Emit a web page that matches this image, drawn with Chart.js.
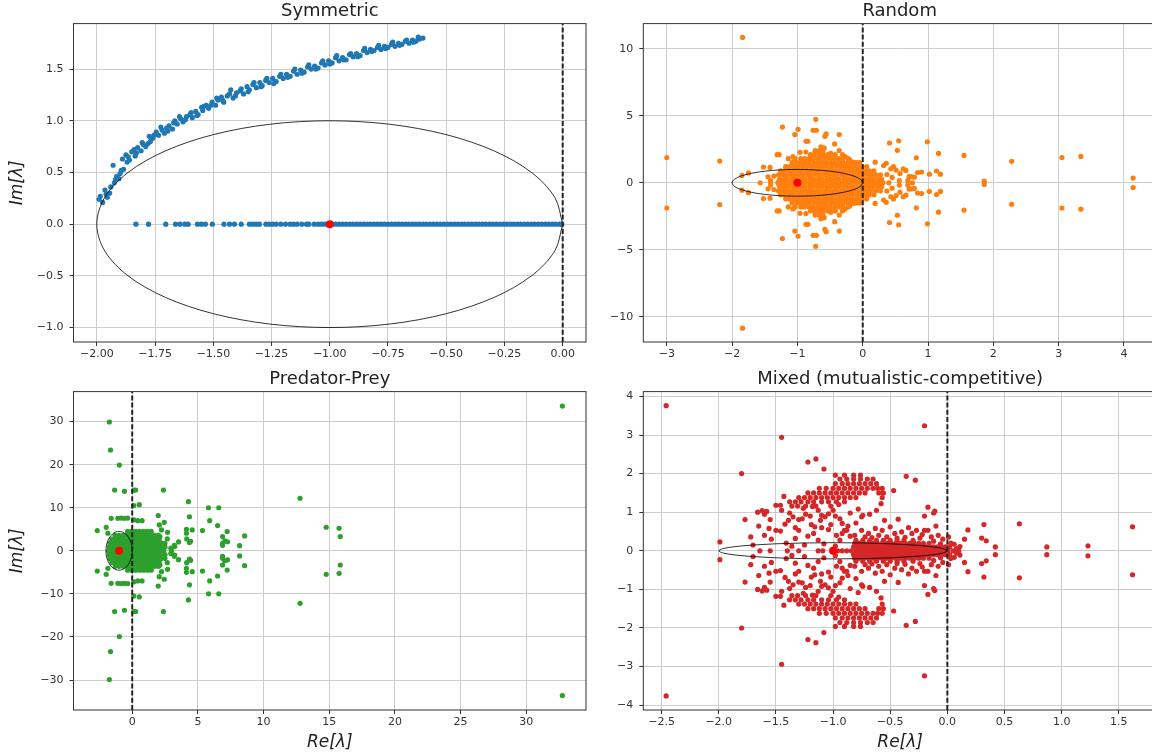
<!DOCTYPE html>
<html>
<head>
<meta charset="utf-8">
<script src="https://cdn.jsdelivr.net/npm/chart.js@4/dist/chart.umd.min.js"></script>
<style>
  html, body { margin: 0; padding: 0; background: #fff; overflow: hidden; width: 1152px; height: 755px; }
  canvas { position: absolute; }
  #symmetricChart { left: 0; top: 0; }
  #randomChart { left: 580px; top: 0; }
  #predatorChart { left: 0; top: 368px; }
  #mixedChart { left: 580px; top: 368px; }
</style>
</head>
<body>
<canvas id="symmetricChart" width="590" height="370"></canvas>
<canvas id="randomChart" width="580" height="370"></canvas>
<canvas id="predatorChart" width="590" height="387"></canvas>
<canvas id="mixedChart" width="581" height="387"></canvas>
<script>
// ====== Data (eigenvalues, [Re, Im]) ======
// Symmetric: upper branch and the points lying on the real axis
const symArc = [
  [-1.99, 0.24], [-1.985, 0.27], [-1.975, 0.21], [-1.965, 0.33], [-1.955, 0.26], [-1.945, 0.30], [-1.94, 0.36],
  [-1.93, 0.57], [-1.925, 0.40], [-1.915, 0.46], [-1.905, 0.44], [-1.90, 0.49], [-1.89, 0.63], [-1.885, 0.53],
  [-1.875, 0.67], [-1.87, 0.60], [-1.86, 0.62], [-1.85, 0.70], [-1.84, 0.72], [-1.835, 0.66], [-1.825, 0.74],
  [-1.81, 0.71], [-1.80, 0.77], [-1.79, 0.75], [-1.775, 0.85], [-1.77, 0.80], [-1.76, 0.83], [-1.745, 0.89],
  [-1.735, 0.86], [-1.72, 0.91], [-1.71, 0.88], [-1.70, 0.93], [-1.69, 0.95], [-1.675, 0.92], [-1.665, 1.00],
  [-1.655, 0.97], [-1.64, 1.02], [-1.63, 0.99], [-1.615, 1.04], [-1.60, 1.06], [-1.59, 1.03], [-1.575, 1.09],
  [-1.565, 1.06], [-1.55, 1.13], [-1.545, 1.10], [-1.53, 1.15], [-1.52, 1.12], [-1.505, 1.18], [-1.49, 1.15],
  [-1.48, 1.20], [-1.465, 1.23], [-1.455, 1.18], [-1.44, 1.24], [-1.425, 1.30], [-1.415, 1.22], [-1.40, 1.27],
  [-1.385, 1.29], [-1.37, 1.26], [-1.355, 1.33], [-1.345, 1.30], [-1.33, 1.35], [-1.315, 1.32], [-1.30, 1.37],
  [-1.29, 1.34], [-1.275, 1.39], [-1.26, 1.37], [-1.245, 1.41], [-1.23, 1.38], [-1.215, 1.43], [-1.20, 1.41],
  [-1.185, 1.45], [-1.17, 1.43], [-1.155, 1.48], [-1.14, 1.45], [-1.125, 1.49], [-1.11, 1.47], [-1.095, 1.52],
  [-1.08, 1.50], [-1.065, 1.53], [-1.05, 1.51], [-1.035, 1.56], [-1.02, 1.54], [-1.005, 1.58], [-0.99, 1.56],
  [-0.975, 1.61], [-0.96, 1.58], [-0.945, 1.61], [-0.93, 1.59], [-0.915, 1.64], [-0.90, 1.62], [-0.885, 1.65],
  [-0.87, 1.63], [-0.855, 1.68], [-0.84, 1.66], [-0.825, 1.69], [-0.81, 1.68], [-0.795, 1.71], [-0.78, 1.69],
  [-0.765, 1.72], [-0.75, 1.71], [-0.735, 1.74], [-0.72, 1.72], [-0.705, 1.75], [-0.69, 1.74], [-0.675, 1.77],
  [-0.66, 1.75], [-0.645, 1.78], [-0.63, 1.77], [-0.615, 1.79], [-0.60, 1.80],
  [-1.96, 0.29], [-1.92, 0.43], [-1.895, 0.52], [-1.865, 0.65], [-1.83, 0.69], [-1.805, 0.79], [-1.78, 0.78],
  [-1.755, 0.86], [-1.725, 0.94], [-1.695, 0.90], [-1.67, 0.98], [-1.645, 1.04], [-1.62, 1.01], [-1.595, 1.08],
  [-1.57, 1.05], [-1.54, 1.14], [-1.51, 1.15], [-1.485, 1.22], [-1.46, 1.20], [-1.43, 1.26], [-1.405, 1.24],
  [-1.38, 1.31], [-1.35, 1.28], [-1.325, 1.37], [-1.295, 1.33], [-1.27, 1.41], [-1.24, 1.36], [-1.21, 1.45],
  [-1.18, 1.42], [-1.15, 1.50], [-1.12, 1.46], [-1.09, 1.54], [-1.06, 1.50], [-1.03, 1.58], [-1.00, 1.55],
  [-0.97, 1.63], [-0.94, 1.59], [-0.91, 1.65], [-0.88, 1.62], [-0.85, 1.70], [-0.82, 1.67], [-0.79, 1.73],
  [-0.76, 1.70], [-0.73, 1.76], [-0.70, 1.73], [-0.67, 1.78], [-0.64, 1.76], [-0.62, 1.81],
];
const symRealAxis = [
  -1.832, -1.778, -1.704, -1.662, -1.643, -1.622, -1.608, -1.568, -1.551, -1.534, -1.504, -1.454, -1.43, -1.409,
  -1.38, -1.345, -1.33, -1.316, -1.302, -1.274, -1.26, -1.245, -1.23, -1.21, -1.19, -1.17, -1.155, -1.14, -1.12,
  -1.1, -1.09, -1.067, -1.05, -1.035, -1.02, -0.99, -0.975, -0.96, -0.945, -0.93, -0.915, -0.9, -0.885, -0.87,
  -0.855, -0.84, -0.825, -0.81, -0.795, -0.78, -0.765, -0.75, -0.735, -0.72, -0.705, -0.69, -0.675, -0.66, -0.645,
  -0.63, -0.615, -0.6, -0.585, -0.57, -0.555, -0.54, -0.525, -0.51, -0.495, -0.48, -0.465, -0.45, -0.435, -0.42,
  -0.405, -0.39, -0.375, -0.36, -0.345, -0.33, -0.315, -0.3, -0.285, -0.27, -0.255, -0.24, -0.225, -0.21, -0.195,
  -0.18, -0.165, -0.15, -0.135, -0.12, -0.105, -0.09, -0.075, -0.06, -0.045, -0.03, -0.015, -0.004,
];

// The other three matrices are real and non-symmetric, so complex eigenvalues
// come in conjugate pairs: only Im > 0 is listed here, the mirror is added below.
// "Rows" hold the solid core of each cloud, one Im level per row.

// Random
const randomUpper = [
  [-1.84, 10.85], [-3.0, 1.88], [-2.19, 1.62], [4.14, 0.35], [3.05, 1.88], [3.34, 1.97], [2.28, 1.6], [1.86, 0.12],
  [1.55, 2.04], [1.16, 2.19], [0.99, 3.06], [0.55, 3.13], [0.41, 2.97], [0.53, 2.42], [0.82, 1.87],
  [1.19, 0.64], [1.13, 0.88], [1.02, 0.64], [0.9, 0.8], [0.84, 0.77], [0.71, 0.47], [0.79, 0.42], [0.62, 1.04],
  [0.66, 0.92], [0.56, 0.17], [0.69, 0.17], [0.43, 1.04], [0.32, 1.29], [0.36, 1.46], [0.19, 1.54], [0.47, 1.2],
  [0.51, 0.95], [0.57, 0.7], [0.74, 0.46], [0.37, 0.62], [0.45, 0.4],
  [-0.72, 4.74], [-1.23, 4.16], [-0.99, 3.99], [-1.04, 3.6], [-0.76, 3.92], [-0.71, 3.92], [-0.56, 3.65],
  [-0.58, 3.47], [-0.36, 3.6], [-0.87, 3.1], [-0.84, 3.1], [-0.59, 2.6], [-0.62, 2.46], [-0.43, 2.9], [-0.36, 2.41],
  [-1.31, 2.1], [-1.28, 2.1], [-1.04, 1.82], [-0.87, 2.3], [-0.96, 2.28], [-0.64, 2.68], [-0.49, 2.2], [-0.31, 2.1],
  [-0.27, 1.96], [-0.2, 1.71], [-0.15, 1.54], [-1.14, 1.8], [-1.07, 1.95], [-1.52, 1.17], [-1.42, 1.15],
  [-1.85, 0.55], [-1.75, 0.74], [-1.41, 0.17], [-1.28, 0.17], [-1.36, 0.5], [-1.45, 0.45],
];
const randomRows = [
  { im: 0.28, re: [-1.27, -1.2, -1.14, -1.07, -1.01, -0.94, -0.88, -0.81, -0.75, -0.68, -0.62, -0.55, -0.49, -0.42, -0.36, -0.29, -0.23, -0.16, -0.1, -0.03, 0.03, 0.1, 0.16, 0.23, 0.29] },
  { im: 0.6, re: [-1.29, -1.23, -1.17, -1.1, -1.04, -0.97, -0.91, -0.84, -0.78, -0.71, -0.65, -0.58, -0.52, -0.45, -0.39, -0.32, -0.26, -0.19, -0.13, -0.06, 0.0, 0.07, 0.13, 0.2, 0.27] },
  { im: 0.9, re: [-1.26, -1.2, -1.13, -1.07, -1.0, -0.94, -0.87, -0.81, -0.74, -0.68, -0.61, -0.55, -0.48, -0.42, -0.35, -0.29, -0.22, -0.16, -0.09, -0.03, 0.04, 0.1, 0.17] },
  { im: 1.2, re: [-1.18, -1.12, -1.05, -0.99, -0.92, -0.86, -0.79, -0.73, -0.66, -0.6, -0.53, -0.47, -0.4, -0.34, -0.27, -0.21, -0.14, -0.08, -0.01, 0.06] },
  { im: 1.5, re: [-1.08, -1.01, -0.95, -0.88, -0.82, -0.75, -0.69, -0.62, -0.56, -0.49, -0.43, -0.36, -0.3, -0.23, -0.17, -0.1, -0.05] },
  { im: 1.8, re: [-0.95, -0.89, -0.82, -0.76, -0.69, -0.63, -0.56, -0.5, -0.43, -0.37, -0.3, -0.22] },
  { im: 2.1, re: [-0.8, -0.74, -0.67, -0.61, -0.54, -0.48, -0.42] },
  { im: 2.4, re: [-0.73, -0.67, -0.61] },
];
const randomRealAxis = [
  -1.57, -1.41, -1.3, -1.24, -1.18, -1.12, -1.06, -1.0, -0.94, -0.88, -0.82, -0.76, -0.7, -0.64, -0.58, -0.52,
  -0.46, -0.4, -0.34, -0.28, -0.22, -0.16, -0.1, -0.04, 0.02, 0.08, 0.14, 0.2, 0.26, 0.31, 0.4, 0.76,
];

// Predator-Prey
const predatorUpper = [
  [32.75, 33.6], [-1.74, 29.9], [-1.65, 23.4], [-0.98, 19.9], [12.78, 12.2], [14.77, 5.47], [15.75, 5.24], [15.84, 3.3],
  [-1.34, 14.1], [-0.59, 13.8], [0.12, 14.1], [0.26, 14.1], [2.38, 14.1], [0.12, 10.5], [0.54, 10.7], [4.28, 11.4],
  [5.81, 10.0], [6.59, 10.0], [-1.6, 7.55], [-1.09, 7.55], [-0.84, 7.6], [-0.59, 7.55], [-0.34, 7.6], [0.12, 7.2],
  [0.42, 7.0], [0.75, 7.0], [1.98, 8.2], [2.44, 6.6], [4.36, 7.9], [5.9, 7.0], [6.5, 5.85], [-2.66, 4.69],
  [-1.98, 5.46], [-1.85, 4.07], [2.06, 6.0], [2.23, 4.84], [2.69, 4.3], [3.21, 1.28], [3.53, 2.06], [3.24, 0.97],
  [4.13, 5.0], [4.13, 4.07], [4.57, 4.84], [5.35, 4.7], [4.36, 1.9], [4.45, 2.2], [2.49, 1.75], [2.11, 3.3],
  [6.88, 3.3], [6.88, 1.75], [6.88, 1.28], [7.26, 2.1], [7.23, 4.48], [7.05, 2.3], [8.18, 1.2], [8.56, 3.45],
  [4.15, 2.75], [2.94, 0.6], [2.67, 2.75],
];
const predatorRows = [
  { im: 0.9, re: [-1.75, -1.45, -1.15, -0.85, -0.55, -0.25, 0.05, 0.35, 0.65, 0.95, 1.25, 1.55, 1.85, 2.15, 2.5] },
  { im: 1.8, re: [-1.7, -1.4, -1.1, -0.8, -0.5, -0.2, 0.1, 0.4, 0.7, 1.0, 1.3, 1.6, 1.9, 2.2] },
  { im: 2.7, re: [-1.55, -1.25, -0.95, -0.65, -0.35, -0.05, 0.25, 0.55, 0.85, 1.15, 1.45, 1.75, 2.05] },
  { im: 3.6, re: [-1.3, -1.0, -0.7, -0.4, -0.1, 0.2, 0.5, 0.8, 1.1, 1.4, 1.7, 2.0] },
  { im: 4.5, re: [-0.35, -0.05, 0.25, 0.55, 0.85, 1.15, 1.45] },
];
const predatorRealAxis = [-1.8, -1.5, -1.2, -0.9, -0.6, -0.3, 0.0, 0.3, 0.6, 0.9, 1.2, 1.5, 1.8, 2.1, 2.4, 3.0];

// Mixed (mutualistic-competitive)
const mixedUpper = [
  [-2.46, 3.76], [-1.8, 2.0], [-1.45, 2.94], [-0.2, 3.24], [-1.22, 2.3], [-1.15, 2.38], [-1.08, 2.12],
  [-0.36, 1.93], [-0.28, 1.83], [-1.99, 0.23], [1.62, 0.62], [1.23, 0.13], [0.87, 0.1], [0.63, 0.7],
  [0.42, 0.1], [0.34, 0.26], [0.3, 0.33], [0.32, 0.68], [0.18, 0.54], [0.15, 0.3], [0.11, 0.11], [0.06, 0.17],
  [0.01, 0.36], [-0.11, 1.03], [-0.17, 1.13], [-0.2, 0.9], [-0.12, 0.98], [-0.1, 0.64], [-0.47, 1.56],
  [-0.57, 1.38], [-0.58, 1.22], [-0.43, 0.82], [-0.2, 0.53], [-0.55, 0.79],
  [-1.77, 0.81], [-1.72, 0.36], [-1.66, 1.0], [-1.62, 1.04], [-1.58, 1.02], [-1.65, 0.64], [-1.6, 0.4],
  [-1.55, 0.81], [-1.56, 0.58], [-1.5, 1.18], [-1.5, 0.53], [-1.46, 0.51], [-1.43, 1.41], [-1.41, 0.2],
  [-1.33, 0.32], [-1.22, 0.38], [-1.17, 0.45], [-1.13, 0.28], [-0.94, 0.28], [-0.92, 0.45], [-0.9, 0.53],
  [-0.85, 0.38], [-1.42, 0.69], [-1.33, 0.6], [-1.3, 0.53], [-1.39, 0.79], [-1.35, 0.88], [-1.3, 0.81],
  [-1.27, 0.83], [-1.19, 0.68], [-1.16, 0.62], [-1.11, 0.79], [-1.07, 0.88], [-1.1, 0.92], [-1.13, 1.05],
  [-1.04, 0.96], [-1.0, 1.05], [-0.94, 0.83], [-0.92, 0.71], [-0.87, 0.64], [-0.88, 0.53], [-0.85, 0.98],
  [-0.75, 0.88], [-0.74, 0.92], [-1.45, 1.05], [-1.46, 1.18], [-1.24, 0.95], [-1.2, 0.9], [-1.02, 0.68],
  [-1.04, 0.55], [-0.97, 0.4], [-1.08, 0.18], [-1.25, 0.15], [-1.36, 0.12], [-0.98, 0.12], [-1.7, 0.15],
  [-1.6, 0.95], [-1.38, 0.98], [-1.26, 1.1], [-1.18, 1.15], [-0.98, 0.9], [-0.8, 0.72], [-0.78, 1.08],
  [-0.68, 0.95], [-0.62, 1.05], [-1.54, 0.3], [-1.1, 0.6], [-0.95, 1.2],
  [-0.81, 0.4], [-0.75, 0.53], [-0.69, 0.45], [-0.66, 0.34], [-0.63, 0.58], [-0.6, 0.4], [-0.57, 0.53],
  [-0.5, 0.62], [-0.46, 0.45], [-0.4, 0.49], [-0.37, 0.35], [-0.31, 0.45], [-0.27, 0.53], [-0.24, 0.33],
  [-0.17, 0.53], [-0.14, 0.36], [-0.08, 0.4], [-0.04, 0.3], [-0.53, 0.36], [-0.44, 0.33], [-0.34, 0.6],
  [-0.22, 0.42], [-0.72, 0.36], [-0.12, 0.25], [-0.06, 0.18], [0.03, 0.2], [0.08, 0.06],
];
const mixedRows = [
  { im: 1.16, re: [-1.36, -1.31, -1.24, -1.15, -1.02] },
  { im: 1.27, re: [-1.38, -1.33, -1.28, -1.22, -1.17, -1.1, -1.04, -0.97, -0.9] },
  { im: 1.38, re: [-1.3, -1.25, -1.2, -1.15, -1.1, -1.05, -1.0, -0.95, -0.9, -0.85, -0.8] },
  { im: 1.5, re: [-1.22, -1.17, -1.12, -1.07, -1.02, -0.97, -0.92, -0.87, -0.82, -0.77, -0.72, -0.6, -0.56] },
  { im: 1.62, re: [-1.12, -1.06, -1.0, -0.95, -0.9, -0.85, -0.8, -0.75, -0.7, -0.65, -0.61, -0.57] },
  { im: 1.74, re: [-0.98, -0.92, -0.87, -0.82, -0.77, -0.72, -0.67, -0.62] },
  { im: 1.86, re: [-0.94, -0.88, -0.82, -0.76, -0.7, -0.65] },
  { im: 1.96, re: [-0.98, -0.9, -0.82, -0.76] },
  { im: 0.1, re: [-0.82, -0.785, -0.75, -0.715, -0.68, -0.645, -0.61, -0.575, -0.54, -0.505, -0.47, -0.435, -0.4, -0.365, -0.33, -0.295, -0.26, -0.225, -0.19, -0.155, -0.12, -0.085, -0.05, -0.015, 0.02] },
  { im: 0.19, re: [-0.81, -0.77, -0.73, -0.69, -0.65, -0.61, -0.57, -0.53, -0.49, -0.45, -0.41, -0.37, -0.33, -0.29, -0.25, -0.21, -0.16] },
  { im: 0.27, re: [-0.8, -0.74, -0.68, -0.62, -0.56, -0.5, -0.44, -0.38, -0.3] },
];
const mixedRealAxis = [
  -1.64, -1.55, -1.4, -1.3, -1.13, -1.09, -0.96, -0.92, -0.88, -0.84, -0.8, -0.765, -0.73, -0.695, -0.66, -0.625,
  -0.59, -0.555, -0.52, -0.485, -0.45, -0.415, -0.38, -0.345, -0.31, -0.275, -0.24, -0.205, -0.17, -0.135, -0.1,
  -0.065, -0.03, 0.005, 0.05, 0.1,
];

// ====== Axis ranges and ticks ======
const symXRange = [-2.1, 0.1], symYRange = [-1.14, 1.94];
const symXTicks = [-2, -1.75, -1.5, -1.25, -1, -0.75, -0.5, -0.25, 0];
const symYTicks = [-1, -0.5, 0, 0.5, 1, 1.5];
const randomXRange = [-3.36, 4.49], randomYRange = [-11.88, 11.88];
const randomXTicks = [-3, -2, -1, 0, 1, 2, 3, 4];
const randomYTicks = [-10, -5, 0, 5, 10];
const predatorXRange = [-4.47, 34.55], predatorYRange = [-36.96, 36.96];
const predatorXTicks = [0, 5, 10, 15, 20, 25, 30];
const predatorYTicks = [-30, -20, -10, 0, 10, 20, 30];
const mixedXRange = [-2.66, 1.834], mixedYRange = [-4.125, 4.125];
const mixedXTicks = [-2.5, -2, -1.5, -1, -0.5, 0, 0.5, 1, 1.5];
const mixedYTicks = [-4, -3, -2, -1, 0, 1, 2, 3, 4];

// ====== Reference ellipse around (-1, 0) ======
const unitCos = [1, 0.966, 0.866, 0.707, 0.5, 0.259, 0, -0.259, -0.5, -0.707, -0.866, -0.966, -1, -0.966, -0.866, -0.707, -0.5, -0.259, 0, 0.259, 0.5, 0.707, 0.866, 0.966, 1];
const unitSin = [0, 0.259, 0.5, 0.707, 0.866, 0.966, 1, 0.966, 0.866, 0.707, 0.5, 0.259, 0, -0.259, -0.5, -0.707, -0.866, -0.966, -1, -0.966, -0.866, -0.707, -0.5, -0.259, 0];
const ellipseCenter = -1;
const ellipseRx = [1, 1, 1, 1];
const ellipseRy = [1, 1, 4.5, 0.21];

// ====== Helpers ======
Chart.defaults.font.family = "'DejaVu Sans', sans-serif";
Chart.defaults.color = "#333";

const fmt = (v, d) => (v < 0 ? "\u2212" : "") + Math.abs(v).toFixed(d);

function withConjugates(upper, rows, realAxis) {
  const pts = [];
  upper.forEach(([re, im]) => pts.push({ x: re, y: im }, { x: re, y: -im }));
  rows.forEach((row) => row.re.forEach((re) => pts.push({ x: re, y: row.im }, { x: re, y: -row.im })));
  realAxis.forEach((re) => pts.push({ x: re, y: 0 }));
  return pts;
}

function ellipse(rx, ry) {
  return unitCos.map((c, i) => ({ x: ellipseCenter + rx * c, y: ry * unitSin[i] }));
}

// box round the plot area (matplotlib spines)
const spines = {
  id: "spines",
  afterDatasetsDraw(chart) {
    const { ctx, chartArea: a } = chart;
    ctx.save();
    ctx.strokeStyle = "#333";
    ctx.lineWidth = 1;
    ctx.strokeRect(a.left, a.top, a.right - a.left, a.bottom - a.top);
    ctx.restore();
  },
};

function axis(range, ticks, decimals, horizontal, size, title) {
  return {
    type: "linear",
    min: range[0],
    max: range[1],
    afterBuildTicks: (s) => { s.ticks = ticks.map((v) => ({ value: v })); },
    afterFit: (s) => { if (horizontal) s.height = size; else s.width = size; },
    grid: { color: "#cdcdcd", lineWidth: 1, tickLength: 4, tickColor: "#333", tickWidth: 1 },
    border: { display: false },
    ticks: {
      autoSkip: false,
      maxRotation: 0,
      padding: horizontal ? 2 : 6,
      color: "#333",
      font: { size: 11 },
      callback: (v) => fmt(v, decimals),
    },
    title: title
      ? {
          display: true,
          text: title,
          color: "#222",
          font: { size: 17, style: "italic" },
          padding: horizontal ? { top: 0, bottom: 2.1 } : { top: 7.3, bottom: 0 },
        }
      : { display: false },
  };
}

function makePanel(id, p) {
  return new Chart(document.getElementById(id), {
    type: "scatter",
    data: {
      datasets: [
        {
          data: [{ x: 0, y: p.yRange[0] }, { x: 0, y: p.yRange[1] }],
          showLine: true, borderColor: "#222", borderWidth: 2, borderDash: [5, 2.2], pointRadius: 0, order: 0,
        },
        { data: [{ x: ellipseCenter, y: 0 }], backgroundColor: "#ff0000", pointRadius: 4, borderWidth: 0, order: 1 },
        {
          data: ellipse(p.rx, p.ry),
          showLine: true, borderColor: "rgba(0,0,0,0.8)", borderWidth: 1, tension: 0.33, pointRadius: 0, order: 2,
        },
        { data: p.points, backgroundColor: p.color, pointRadius: 2.6, borderWidth: 0, order: 3 },
      ],
    },
    options: {
      responsive: false,
      animation: false,
      events: [],
      layout: { padding: { right: p.padRight } },
      plugins: {
        legend: { display: false },
        tooltip: { enabled: false },
        title: {
          display: true,
          text: p.title,
          fullSize: false,
          color: "#222",
          font: { size: 18, weight: "normal" },
          padding: { top: 1, bottom: 1 },
        },
      },
      scales: {
        x: axis(p.xRange, p.xTicks, p.xDec, true, p.xAxisHeight, p.xTitle),
        y: axis(p.yRange, p.yTicks, p.yDec, false, p.yAxisWidth, p.yTitle),
      },
    },
    plugins: [spines],
  });
}

// ====== Panels ======
makePanel("symmetricChart", {
  title: "Symmetric", color: "#1f77b4",
  points: symArc.map(([x, y]) => ({ x, y })).concat(symRealAxis.map((x) => ({ x, y: 0 }))),
  xRange: symXRange, yRange: symYRange, xTicks: symXTicks, yTicks: symYTicks, xDec: 2, yDec: 1,
  rx: ellipseRx[0], ry: ellipseRy[0],
  yAxisWidth: 73.5, xAxisHeight: 28, padRight: 0.5, yTitle: "Im[\u03bb]",
});

makePanel("randomChart", {
  title: "Random", color: "#ff7f0e",
  points: withConjugates(randomUpper, randomRows, randomRealAxis),
  xRange: randomXRange, yRange: randomYRange, xTicks: randomXTicks, yTicks: randomYTicks, xDec: 0, yDec: 0,
  rx: ellipseRx[1], ry: ellipseRy[1],
  yAxisWidth: 63.3, xAxisHeight: 28, padRight: 1.2,
});

makePanel("predatorChart", {
  title: "Predator-Prey", color: "#2ca02c",
  points: withConjugates(predatorUpper, predatorRows, predatorRealAxis),
  xRange: predatorXRange, yRange: predatorYRange, xTicks: predatorXTicks, yTicks: predatorYTicks, xDec: 0, yDec: 0,
  rx: ellipseRx[2], ry: ellipseRy[2],
  yAxisWidth: 73.5, xAxisHeight: 45, padRight: 0.5, yTitle: "Im[\u03bb]", xTitle: "Re[\u03bb]",
});

makePanel("mixedChart", {
  title: "Mixed (mutualistic-competitive)", color: "#d62728",
  points: withConjugates(mixedUpper, mixedRows, mixedRealAxis),
  xRange: mixedXRange, yRange: mixedYRange, xTicks: mixedXTicks, yTicks: mixedYTicks, xDec: 1, yDec: 0,
  rx: ellipseRx[3], ry: ellipseRy[3],
  yAxisWidth: 63.3, xAxisHeight: 45, padRight: 0.3, xTitle: "Re[\u03bb]",
});
</script>
</body>
</html>
